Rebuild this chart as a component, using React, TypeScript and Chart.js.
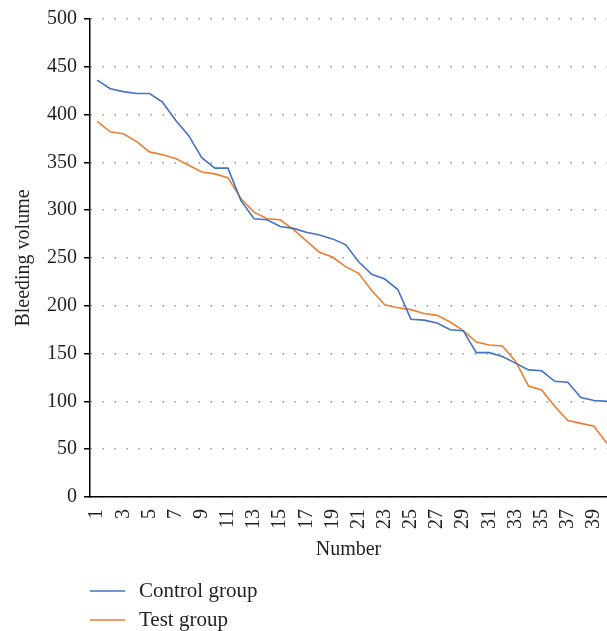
import React, { useEffect, useRef } from "react";
import { Chart, registerables } from "chart.js";

Chart.register(...registerables);

const sampleNumbers = [
  1, 2, 3, 4, 5, 6, 7, 8, 9, 10, 11, 12, 13, 14, 15, 16, 17, 18, 19, 20,
  21, 22, 23, 24, 25, 26, 27, 28, 29, 30, 31, 32, 33, 34, 35, 36, 37, 38, 39, 40,
];

const controlGroup = [
  436, 427, 424, 422, 422, 413, 394, 378, 355, 344, 344, 310, 291, 290, 283, 281, 277, 274, 270, 264,
  246, 233, 228, 217, 186, 185, 182, 175, 174, 151, 151, 147, 140, 133, 132, 121, 120, 104, 101, 100,
];

const testGroup = [
  393, 382, 380, 372, 361, 358, 354, 347, 340, 338, 334, 312, 298, 291, 290, 280, 268, 256, 251, 241,
  234, 216, 201, 198, 196, 192, 190, 183, 174, 162, 159, 158, 142, 116, 112, 95, 80, 77, 74, 56,
];

const xTickLabels = [1, 3, 5, 7, 9, 11, 13, 15, 17, 19, 21, 23, 25, 27, 29, 31, 33, 35, 37, 39];
const seriesLabels = ["Control group", "Test group"];
const seriesColors = ["#4472C4", "#ED7D31"];

const FONT = '"Liberation Serif", "Times New Roman", serif';
const TEXT = "#231f20";

const legendPlugin = {
  id: "stackedBottomLegend",
  afterDraw(chart: any) {
    const { ctx, chartArea } = chart;
    ctx.save();
    ctx.font = `21px ${FONT}`;
    ctx.textBaseline = "middle";
    chart.data.datasets.forEach((ds: any, i: number) => {
      const y = chart.height - 40 + i * 29;
      const x0 = chartArea.left;
      ctx.strokeStyle = ds.borderColor;
      ctx.lineWidth = 1.5;
      ctx.beginPath();
      ctx.moveTo(x0, y);
      ctx.lineTo(x0 + 35, y);
      ctx.stroke();
      ctx.fillStyle = TEXT;
      ctx.fillText(ds.label, x0 + 49, y);
    });
    ctx.restore();
  },
};

export default function App() {
  const ref = useRef<HTMLCanvasElement | null>(null);

  useEffect(() => {
    if (!ref.current) return;
    const toPoints = (vals: number[]) => vals.map((v, i) => ({ x: sampleNumbers[i], y: v }));
    const chart = new Chart(ref.current, {
      type: "line",
      data: {
        datasets: [
          {
            label: seriesLabels[0],
            data: toPoints(controlGroup),
            borderColor: seriesColors[0],
            backgroundColor: seriesColors[0],
            borderWidth: 1.6,
            pointRadius: 0,
            tension: 0,
          },
          {
            label: seriesLabels[1],
            data: toPoints(testGroup),
            borderColor: seriesColors[1],
            backgroundColor: seriesColors[1],
            borderWidth: 1.6,
            pointRadius: 0,
            tension: 0,
          },
        ],
      },
      options: {
        animation: false,
        responsive: false,
        layout: { padding: { left: 12, top: 10, right: 0, bottom: 69 } },
        plugins: {
          legend: { display: false },
          tooltip: { enabled: false },
        },
        scales: {
          x: {
            type: "linear",
            min: 0.45,
            max: 40,
            afterBuildTicks: (axis: any) => {
              axis.ticks = xTickLabels.map((v) => ({ value: v }));
            },
            afterFit: (axis: any) => {
              axis.paddingRight = 0;
            },
            ticks: {
              autoSkip: false,
              maxRotation: 90,
              minRotation: 90,
              padding: 4,
              color: TEXT,
              font: { family: FONT, size: 20 },
              callback: (v: any) => String(v),
            },
            grid: { display: false },
            border: { display: true, color: "#000", width: 1.5 },
            title: {
              display: true,
              text: "Number",
              color: TEXT,
              font: { family: FONT, size: 20 },
              padding: { top: 5, bottom: 0 },
            },
          },
          y: {
            min: 0,
            max: 500,
            ticks: {
              stepSize: 50,
              padding: 7,
              color: TEXT,
              font: { family: FONT, size: 20 },
            },
            grid: {
              color: "#999",
              lineWidth: 1.5,
              drawTicks: true,
              tickLength: 6,
              tickColor: "#000",
              tickWidth: 1.5,
            },
            border: { display: true, color: "#000", width: 1.5, dash: [1.5, 10.5] },
            title: {
              display: true,
              text: "Bleeding volume",
              color: TEXT,
              font: { family: FONT, size: 20 },
              padding: { top: 0, bottom: 4 },
            },
          },
        },
      },
      plugins: [legendPlugin],
    });
    return () => chart.destroy();
  }, []);

  return (
    <div style={{ position: "absolute", left: 0, top: 0, width: 607, height: 631, overflow: "hidden" }}>
      <canvas ref={ref} width={607} height={631} />
    </div>
  );
}
